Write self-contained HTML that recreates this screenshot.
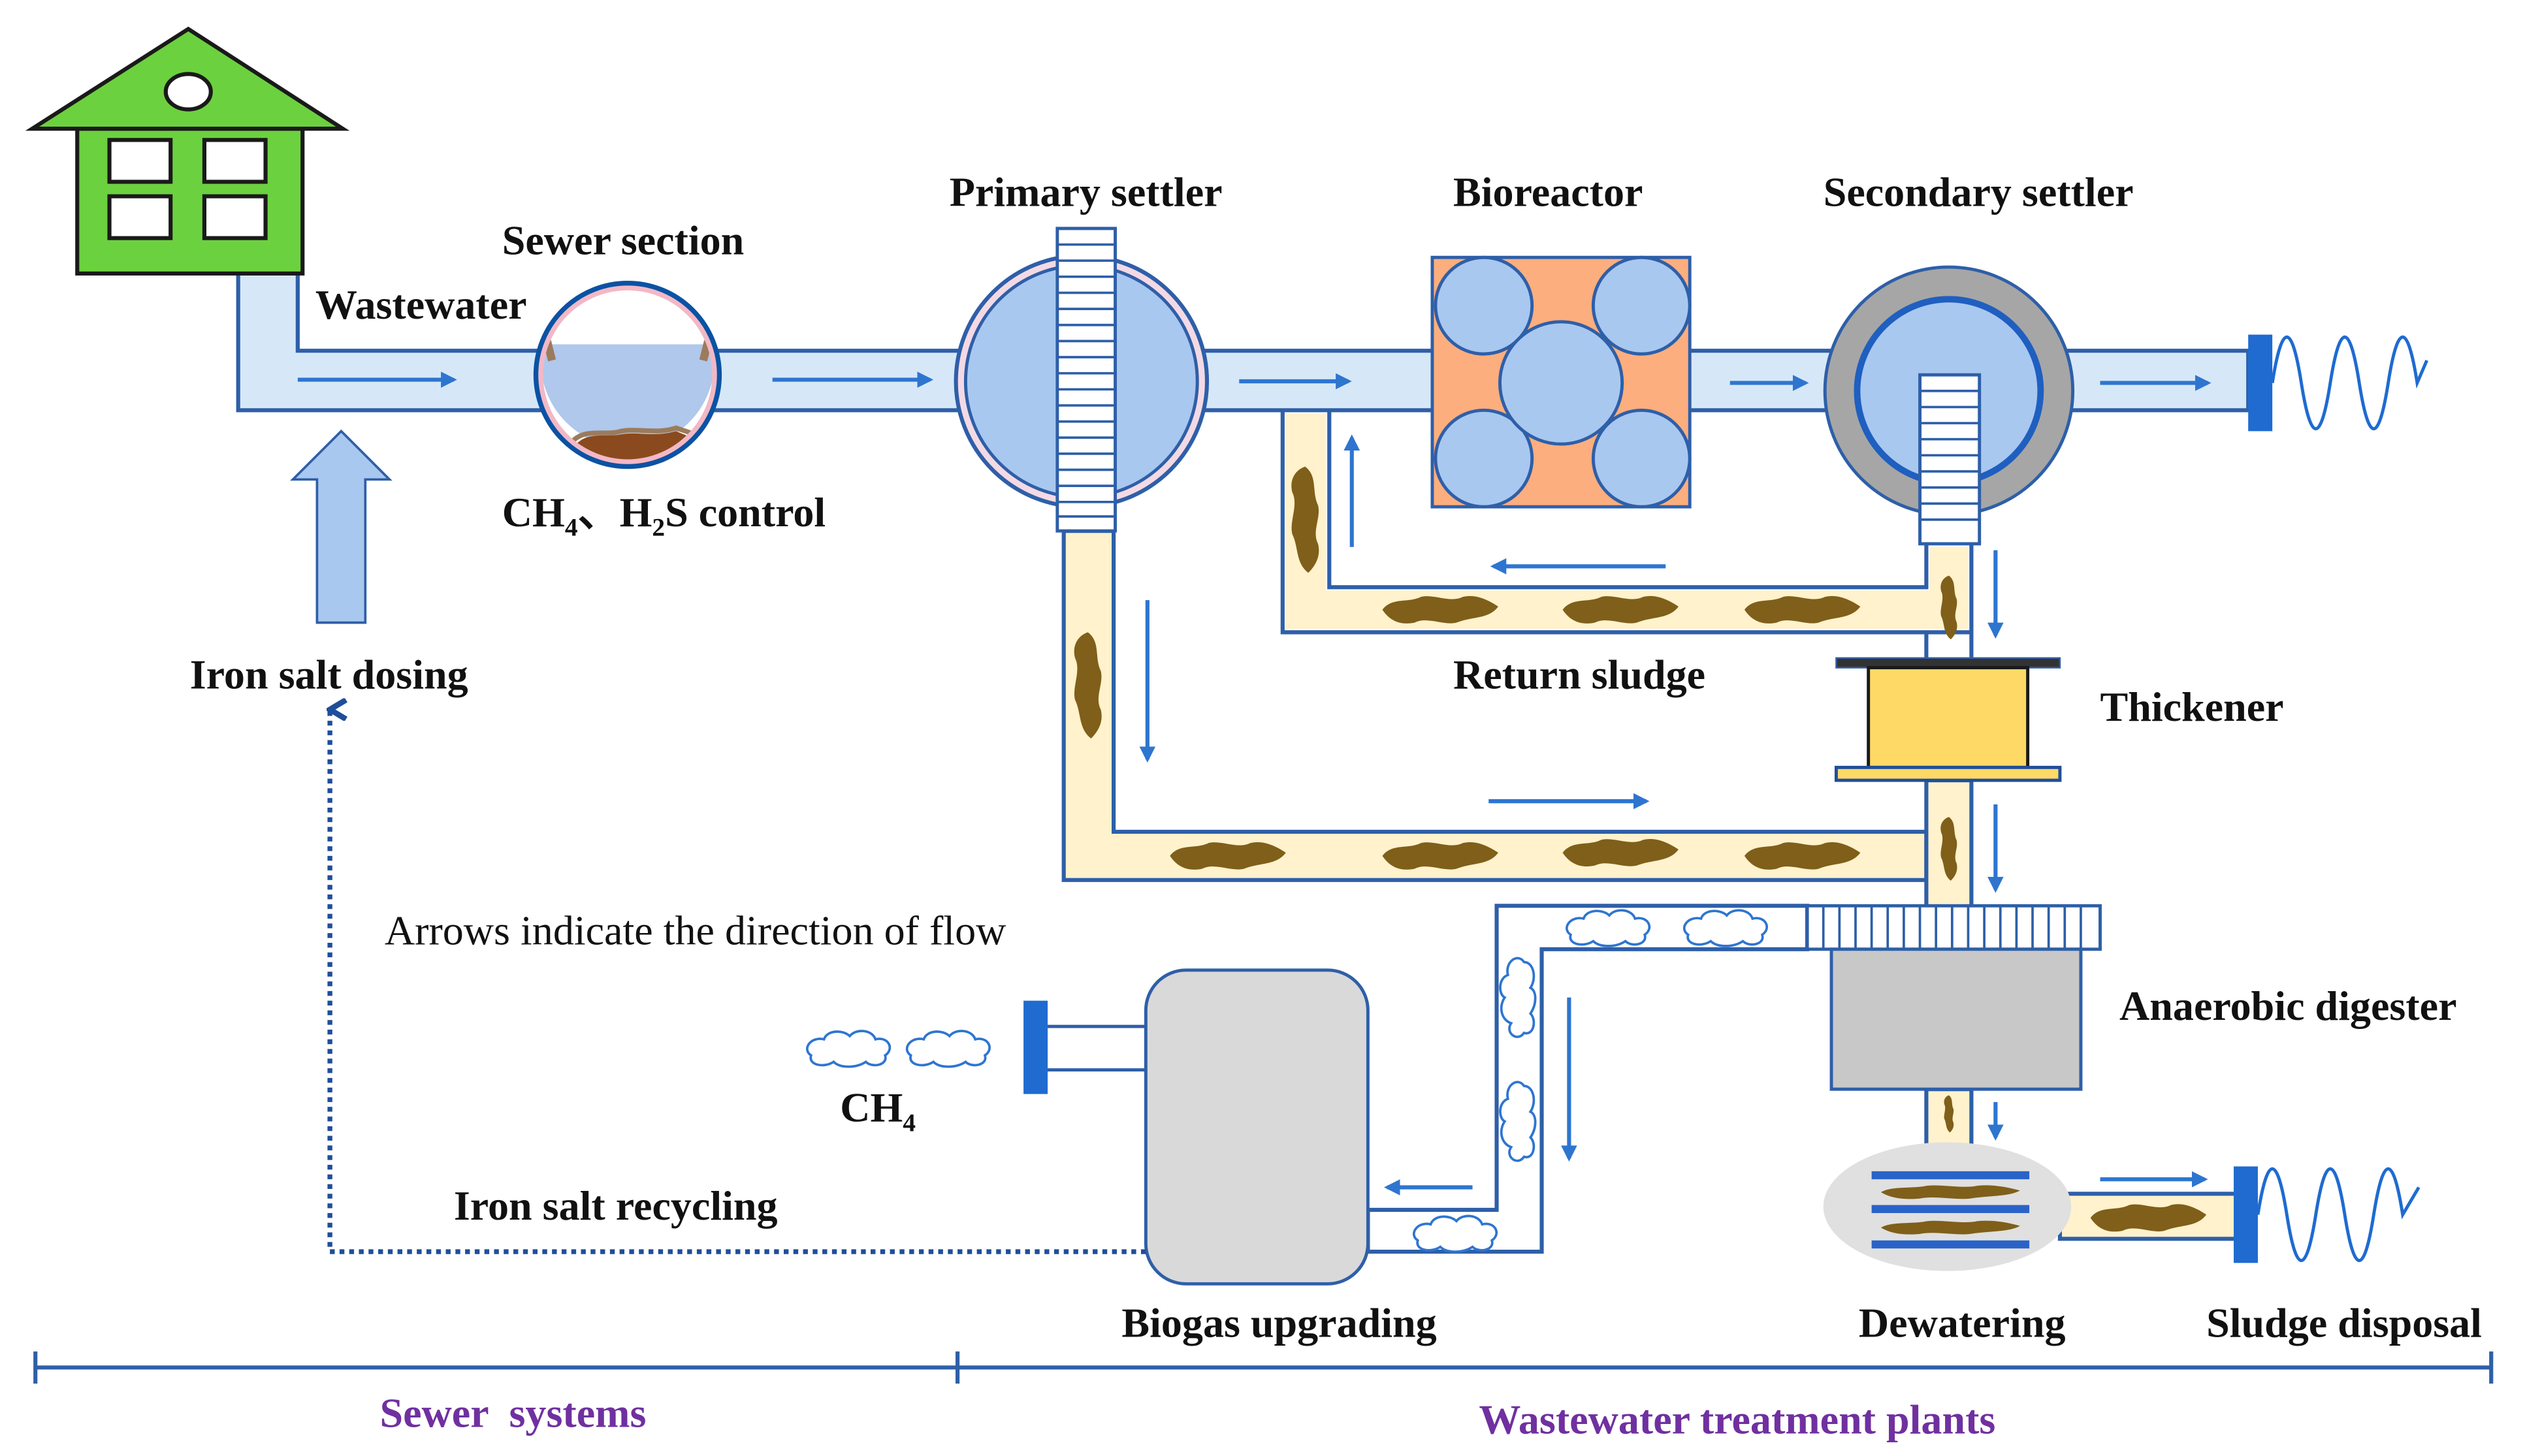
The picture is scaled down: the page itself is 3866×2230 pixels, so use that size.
<!DOCTYPE html>
<html><head><meta charset="utf-8"><style>
html,body{margin:0;padding:0;background:#fff;}
svg{display:block;}
text{font-family:"Liberation Serif",serif;font-weight:bold;font-size:26px;fill:#111;}
</style></head><body>
<svg width="3866" height="2230" viewBox="0 0 1569 905" preserveAspectRatio="none" xmlns="http://www.w3.org/2000/svg">
<defs>
<marker id="ah" markerWidth="10" markerHeight="10" refX="8" refY="5" orient="auto" markerUnits="userSpaceOnUse"><path d="M0,0 L10,5 L0,10 Z" fill="#2E75D0"/></marker>
<marker id="ah2" markerWidth="14" markerHeight="14" refX="7" refY="2" orient="auto" markerUnits="userSpaceOnUse"><path d="M1,12 L7,2 L13,12" fill="none" stroke="#1F4E9A" stroke-width="3.5"/></marker>
<g id="blob"><path d="M-36,0 C-30,-8 -20,-4 -12,-8 C-4,-10 6,-4 14,-8 C22,-10 30,-6 36,-2 C30,6 20,4 10,8 C2,10 -8,4 -16,8 C-26,10 -32,6 -36,0Z" fill="#7F5F1A"/></g>
<g id="vblob"><path d="M0,-32 C8,-26 4,-16 8,-8 C10,0 4,8 8,16 C10,24 6,30 2,34 C-6,28 -4,18 -8,10 C-10,2 -4,-8 -8,-16 C-10,-24 -6,-30 0,-32Z" fill="#7F5F1A"/></g>
<g id="cloud"><path d="M-24,4 C-30,0 -24,-8 -16,-6 C-14,-12 -4,-12 0,-8 C4,-13 14,-12 16,-6 C24,-8 28,0 22,4 C24,10 14,12 10,8 C4,12 -6,12 -10,8 C-16,12 -26,10 -24,4Z" fill="#fff" stroke="#2E75D0" stroke-width="1.5"/></g>
<g id="vcloud"><path d="M4,-22 C0,-28 -8,-22 -6,-14 C-12,-12 -12,-2 -8,0 C-12,6 -10,14 -4,16 C-8,22 0,28 4,22 C10,24 12,14 8,10 C12,4 12,-4 8,-6 C12,-12 10,-22 4,-22Z" fill="#fff" stroke="#2E75D0" stroke-width="1.5"/></g>
</defs>

<path d="M148,170 L148,255 L1397,255 L1397,218 L185,218 L185,170 Z" fill="#D6E8F7" stroke="#2E5FA8" stroke-width="2.5"/>

<rect x="48" y="80" width="140" height="90" fill="#6CD13F" stroke="#1a1a1a" stroke-width="2.5"/>
<polygon points="20,80 213,80 117,18" fill="#6CD13F" stroke="#1a1a1a" stroke-width="2.5"/>
<ellipse cx="117" cy="57" rx="14" ry="11" fill="#fff" stroke="#1a1a1a" stroke-width="2.5"/>
<rect x="68" y="87" width="38" height="26" fill="#fff" stroke="#1a1a1a" stroke-width="2.5"/>
<rect x="127" y="87" width="38" height="26" fill="#fff" stroke="#1a1a1a" stroke-width="2.5"/>
<rect x="68" y="122" width="38" height="26" fill="#fff" stroke="#1a1a1a" stroke-width="2.5"/>
<rect x="127" y="122" width="38" height="26" fill="#fff" stroke="#1a1a1a" stroke-width="2.5"/>

<!-- sewer section -->
<circle cx="390" cy="233" r="57" fill="#fff"/>
<path d="M337,214 L443,214 A54,54 0 1 1 337,214 Z" fill="#AFC8EC"/>
<path d="M358,276 C366,268 376,272 386,270 C396,268 406,272 420,268 L430,272 C420,284 400,290 390,289 C376,289 364,284 358,276Z" fill="#8B4A1E"/>
<path d="M356,274 C364,266 376,271 386,268 C396,266 408,270 420,266 L432,270" fill="none" stroke="#9C7B5C" stroke-width="3"/>
<path d="M340,212 L343,224" stroke="#9C7B5C" stroke-width="5"/>
<path d="M440,212 L437,224" stroke="#9C7B5C" stroke-width="5"/>
<circle cx="390" cy="233" r="54" fill="none" stroke="#F2B8C6" stroke-width="3"/>
<circle cx="390" cy="233" r="57" fill="none" stroke="#0B52A3" stroke-width="3"/>

<circle cx="672" cy="237" r="78" fill="#F3D9E4" stroke="#2E5FA8" stroke-width="2.5"/>
<circle cx="672" cy="237" r="72" fill="#A9C8F0" stroke="#2E5FA8" stroke-width="2"/>

<rect x="890" y="160" width="160" height="155" fill="#FDAE7E" stroke="#2E5FA8" stroke-width="2"/>
<g fill="#A9C8F0" stroke="#2E5FA8" stroke-width="2">
<circle cx="922" cy="190" r="30"/><circle cx="1020" cy="190" r="30"/>
<circle cx="922" cy="285" r="30"/><circle cx="1020" cy="285" r="30"/>
<circle cx="970" cy="238" r="38"/></g>

<circle cx="1211" cy="243" r="77" fill="#A6A6A6" stroke="#2E5FA8" stroke-width="2"/>
<circle cx="1211" cy="243" r="57" fill="#A9C8F0" stroke="#1F5FC0" stroke-width="4"/>

<rect x="1397" y="208" width="15" height="60" fill="#1F6BD0"/>
<path d="M1412,238 C1418,200 1424,200 1430,238 C1436,276 1442,276 1448,238 C1454,200 1460,200 1466,238 C1472,276 1478,276 1484,238 C1490,200 1496,200 1502,238 L1508,224" fill="none" stroke="#1F6BD0" stroke-width="2"/>

<path d="M661,330 L661,547 L1197,547 L1197,517 L692,517 L692,330 Z" fill="#FFF2CC" stroke="#2E5FA8" stroke-width="2.5"/>
<path d="M799,257 L799,391 L1223,391 L1223,340 L1199,340 L1199,367 L824,367 L824,257Z" fill="#FFF2CC"/>
<path d="M797,255 L797,393 L1225,393 M826,255 L826,365 L1197,365 L1197,338 M1225,338 L1225,410" fill="none" stroke="#2E5FA8" stroke-width="2.5"/>
<path d="M1197,393 L1197,410" stroke="#2E5FA8" stroke-width="2.5"/>
<rect x="1197" y="485" width="28" height="80" fill="#FFF2CC" stroke="#2E5FA8" stroke-width="2.5"/>
<rect x="1197" y="677" width="28" height="40" fill="#FFF2CC" stroke="#2E5FA8" stroke-width="2.5"/>

<rect x="657" y="142" width="36" height="188" fill="#fff" stroke="#2E5FA8" stroke-width="2"/>
<g stroke="#2E5FA8" stroke-width="1.5">
<line x1="657" y1="152" x2="693" y2="152"/><line x1="657" y1="162" x2="693" y2="162"/><line x1="657" y1="172" x2="693" y2="172"/><line x1="657" y1="182" x2="693" y2="182"/><line x1="657" y1="192" x2="693" y2="192"/><line x1="657" y1="202" x2="693" y2="202"/><line x1="657" y1="212" x2="693" y2="212"/><line x1="657" y1="222" x2="693" y2="222"/><line x1="657" y1="232" x2="693" y2="232"/><line x1="657" y1="242" x2="693" y2="242"/><line x1="657" y1="252" x2="693" y2="252"/><line x1="657" y1="262" x2="693" y2="262"/><line x1="657" y1="272" x2="693" y2="272"/><line x1="657" y1="282" x2="693" y2="282"/><line x1="657" y1="292" x2="693" y2="292"/><line x1="657" y1="302" x2="693" y2="302"/><line x1="657" y1="312" x2="693" y2="312"/><line x1="657" y1="321" x2="693" y2="321"/>
</g>
<rect x="1193" y="233" width="37" height="105" fill="#fff" stroke="#2E5FA8" stroke-width="2"/>
<g stroke="#2E5FA8" stroke-width="1.5">
<line x1="1193" y1="243" x2="1230" y2="243"/><line x1="1193" y1="253" x2="1230" y2="253"/><line x1="1193" y1="263" x2="1230" y2="263"/><line x1="1193" y1="273" x2="1230" y2="273"/><line x1="1193" y1="283" x2="1230" y2="283"/><line x1="1193" y1="293" x2="1230" y2="293"/><line x1="1193" y1="303" x2="1230" y2="303"/><line x1="1193" y1="313" x2="1230" y2="313"/><line x1="1193" y1="323" x2="1230" y2="323"/>
</g>

<use href="#blob" x="763" y="532"/><use href="#blob" x="895" y="532"/><use href="#blob" x="1007" y="530"/><use href="#blob" x="1120" y="532"/>
<use href="#blob" x="895" y="379"/><use href="#blob" x="1007" y="379"/><use href="#blob" x="1120" y="379"/>
<use href="#vblob" x="676" y="425"/><use href="#vblob" x="811" y="322"/>
<g transform="translate(1211,377) scale(0.6)"><use href="#vblob"/></g>
<g transform="translate(1211,527) scale(0.6)"><use href="#vblob"/></g>
<g transform="translate(1211,692) scale(0.35)"><use href="#vblob"/></g>

<rect x="1141" y="409" width="139" height="6" fill="#333" stroke="#2E5FA8" stroke-width="1"/>
<rect x="1161" y="415" width="99" height="62" fill="#FFD966" stroke="#1a1a1a" stroke-width="2"/>
<rect x="1141" y="477" width="139" height="8" fill="#FFD966" stroke="#1F4E9A" stroke-width="2"/>

<path d="M1123,563 L930,563 L930,752 L850,752 L850,778 L958,778 L958,590 L1123,590 Z" fill="#fff" stroke="#2E5FA8" stroke-width="2.5"/>
<use href="#cloud" x="1000" y="577"/><use href="#cloud" x="1073" y="577"/><use href="#cloud" x="905" y="767"/>
<use href="#vcloud" x="943" y="620"/><use href="#vcloud" x="943" y="697"/>

<rect x="1123" y="563" width="182" height="27" fill="#fff" stroke="#2E5FA8" stroke-width="2"/>
<g stroke="#2E5FA8" stroke-width="1.5">
<line x1="1133" y1="563" x2="1133" y2="590"/><line x1="1143" y1="563" x2="1143" y2="590"/><line x1="1153" y1="563" x2="1153" y2="590"/><line x1="1163" y1="563" x2="1163" y2="590"/><line x1="1173" y1="563" x2="1173" y2="590"/><line x1="1183" y1="563" x2="1183" y2="590"/><line x1="1193" y1="563" x2="1193" y2="590"/><line x1="1203" y1="563" x2="1203" y2="590"/><line x1="1213" y1="563" x2="1213" y2="590"/><line x1="1223" y1="563" x2="1223" y2="590"/><line x1="1233" y1="563" x2="1233" y2="590"/><line x1="1243" y1="563" x2="1243" y2="590"/><line x1="1253" y1="563" x2="1253" y2="590"/><line x1="1263" y1="563" x2="1263" y2="590"/><line x1="1273" y1="563" x2="1273" y2="590"/><line x1="1283" y1="563" x2="1283" y2="590"/><line x1="1293" y1="563" x2="1293" y2="590"/>
</g>
<rect x="1138" y="590" width="155" height="87" fill="#C8C8C8" stroke="#2E5FA8" stroke-width="2"/>

<rect x="1280" y="742" width="110" height="28" fill="#FFF2CC" stroke="#2E5FA8" stroke-width="2.5"/>
<use href="#blob" x="1335" y="757"/>
<ellipse cx="1210" cy="750" rx="77" ry="40" fill="#E0E0E0"/>
<g fill="#2A63C8"><rect x="1163" y="728" width="98" height="5"/><rect x="1163" y="749" width="98" height="5"/><rect x="1163" y="771" width="98" height="5"/></g>
<g transform="translate(1212,741) scale(1.2,0.5)"><use href="#blob"/></g>
<g transform="translate(1212,763) scale(1.2,0.5)"><use href="#blob"/></g>
<rect x="1388" y="725" width="15" height="60" fill="#1F6BD0"/>
<path d="M1403,755 C1409,717 1415,717 1421,755 C1427,793 1433,793 1439,755 C1445,717 1451,717 1457,755 C1463,793 1469,793 1475,755 C1481,717 1487,717 1493,755 L1503,738" fill="none" stroke="#1F6BD0" stroke-width="2"/>

<rect x="650" y="638" width="62" height="27" fill="#fff" stroke="#2E5FA8" stroke-width="2"/>
<rect x="636" y="622" width="15" height="58" fill="#1F6BD0"/>
<rect x="712" y="603" width="138" height="195" rx="25" fill="#D9D9D9" stroke="#2E5FA8" stroke-width="2"/>
<use href="#cloud" x="528" y="652"/><use href="#cloud" x="590" y="652"/>

<polygon points="197,387 227,387 227,298 242,298 212,268 182,298 197,298" fill="#A9C8F0" stroke="#2E5FA8" stroke-width="1.5"/>

<path d="M712,778 L205,778 L205,441" fill="none" stroke="#1F4E9A" stroke-width="3" stroke-dasharray="3,3" marker-end="url(#ah2)"/>

<g stroke="#2E75D0" stroke-width="2.5" fill="none" marker-end="url(#ah)">
<line x1="185" y1="236" x2="282" y2="236"/>
<line x1="480" y1="236" x2="578" y2="236"/>
<line x1="770" y1="237" x2="838" y2="237"/>
<line x1="1075" y1="238" x2="1122" y2="238"/>
<line x1="1305" y1="238" x2="1372" y2="238"/>
<line x1="1035" y1="352" x2="928" y2="352"/>
<line x1="840" y1="340" x2="840" y2="272"/>
<line x1="713" y1="373" x2="713" y2="472"/>
<line x1="925" y1="498" x2="1023" y2="498"/>
<line x1="1240" y1="342" x2="1240" y2="395"/>
<line x1="1240" y1="500" x2="1240" y2="553"/>
<line x1="1240" y1="685" x2="1240" y2="707"/>
<line x1="1305" y1="733" x2="1370" y2="733"/>
<line x1="975" y1="620" x2="975" y2="720"/>
<line x1="915" y1="738" x2="862" y2="738"/>
</g>

<g stroke="#2E5FA8" stroke-width="2.5">
<line x1="22" y1="850" x2="1548" y2="850"/>
<line x1="22" y1="840" x2="22" y2="860"/><line x1="595" y1="840" x2="595" y2="860"/><line x1="1548" y1="840" x2="1548" y2="860"/>
</g>

<text x="312" y="158">Sewer section</text>
<text x="196" y="198">Wastewater</text>
<text x="590" y="128">Primary settler</text>
<text x="903" y="128">Bioreactor</text>
<text x="1133" y="128">Secondary settler</text>
<text x="312" y="327">CH<tspan font-size="16" dy="6">4</tspan><tspan dy="-6">、H</tspan><tspan font-size="16" dy="6">2</tspan><tspan dy="-6">S control</tspan></text>
<text x="118" y="428">Iron salt dosing</text>
<text x="903" y="428">Return sludge</text>
<text x="1305" y="448">Thickener</text>
<text x="239" y="587" style="font-weight:normal">Arrows indicate the direction of flow</text>
<text x="1317" y="634">Anaerobic digester</text>
<text x="522" y="697">CH<tspan font-size="16" dy="6">4</tspan></text>
<text x="282" y="758">Iron salt recycling</text>
<text x="697" y="831">Biogas upgrading</text>
<text x="1155" y="831">Dewatering</text>
<text x="1371" y="831">Sludge disposal</text>
<text x="236" y="887" style="fill:#7030A0" xml:space="preserve">Sewer  systems</text>
<text x="919" y="891" style="fill:#7030A0">Wastewater treatment plants</text>
</svg>
</body></html>
